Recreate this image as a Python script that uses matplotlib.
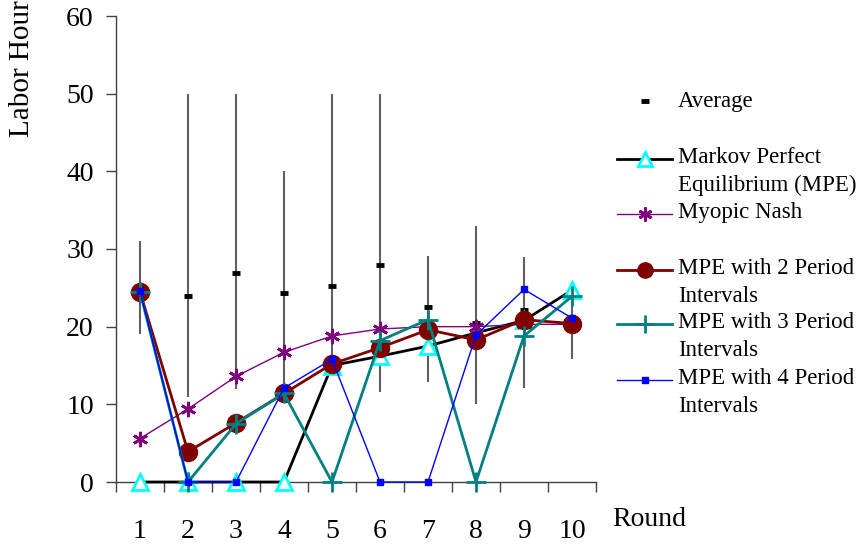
import matplotlib
matplotlib.use("Agg")
import matplotlib.pyplot as plt
from matplotlib.lines import Line2D

plt.rcParams['font.family'] = ['Liberation Serif', 'DejaVu Serif']

rounds = [1, 2, 3, 4, 5, 6, 7, 8, 9, 10]
round_labels = ["1", "2", "3", "4", "5", "6", "7", "8", "9", "10"]
y_ticks = [0, 10, 20, 30, 40, 50, 60]

avg = [24.6, 24.0, 26.9, 24.3, 25.3, 27.9, 22.5, 20.5, 22.2, 21.0]
err_low = [19.0, 11.0, 12.0, 11.4, 15.0, 11.6, 12.9, 10.0, 12.1, 15.9]
err_high = [31.0, 50.0, 50.0, 40.0, 50.0, 50.0, 29.1, 33.0, 29.0, 25.0]

mpe = [0, 0, 0, 0, 15.0, 16.2, 17.5, 19.2, 20.8, 24.7]
myopic = [5.6, 9.4, 13.6, 16.7, 18.8, 19.7, 20.0, 20.0, 20.3, 20.3]
mpe2 = [24.5, 3.9, 7.6, 11.4, 15.2, 17.3, 19.6, 18.3, 20.9, 20.4]
mpe3 = [24.5, 0, 7.5, 11.4, 0, 18.2, 20.9, 0, 18.8, 23.9]
mpe4 = [24.6, 0, 0, 12.1, 15.8, 0, 0, 18.9, 24.8, 21.1]

W, H = 859, 548
fig = plt.figure(figsize=(W / 100, H / 100), dpi=100)
ax = fig.add_axes([116 / W, 1 - 482 / H, 480 / W, 466 / H])

# error bars
ax.vlines(rounds, err_low, err_high, colors='#606060', linewidth=1.5, zorder=2)
ax.plot(rounds, avg, linestyle='none', marker='_', markersize=6, markeredgewidth=3.5,
        color='black', zorder=3)

c_tri = '#00FFFF'
ax.plot(rounds, mpe, color='black', linewidth=2, marker='^', markersize=12,
        markerfacecolor='white', markeredgecolor=c_tri, markeredgewidth=2, zorder=4)
ax.plot(rounds, myopic, color='#800080', linewidth=1, marker=(6, 2, 0), markersize=11,
        markeredgewidth=2, markeredgecolor='#800080', zorder=5)
ax.plot(rounds, mpe2, color='#800000', linewidth=2, marker='o', markersize=13,
        markerfacecolor='#800000', markeredgecolor='#800000', zorder=6)
ax.plot(rounds, mpe3, color='#008080', linewidth=2, marker='+', markersize=14,
        markeredgewidth=2, zorder=7)
ax.plot(rounds, mpe4, color='#0000FF', linewidth=1, marker='s', markersize=4,
        markerfacecolor='#0000FF', markeredgecolor='#0000FF', zorder=8)

ax.set_xlim(0.5, 10.5)
ax.set_ylim(0, 60)
ax.set_yticks(y_ticks)
ax.set_yticklabels([str(v) for v in y_ticks])
ax.set_xticks(rounds)
ax.set_xticklabels(round_labels)
ax.set_xticks([r - 0.5 for r in rounds] + [10.5], minor=True)
ax.tick_params(axis='x', which='major', length=0, pad=27, labelsize=20)
ax.tick_params(axis='x', which='minor', length=7, width=1, direction='out', color='#404040')
ax.tick_params(axis='y', which='major', length=7, width=1, direction='out', pad=9,
               labelsize=20, color='#404040')
for s in ['top', 'right']:
    ax.spines[s].set_visible(False)
for s in ['left', 'bottom']:
    ax.spines[s].set_color('#404040')
    ax.spines[s].set_linewidth(1)
for art in ax.lines + ax.collections:
    art.set_clip_on(False)

fig.text(612 / W, 1 - 519 / H, "Round", fontsize=20, ha='left', va='center')
fig.text(22 / W, 1.0, "Labor Hour", fontsize=21, rotation=90, ha='center', va='top')

# legend drawn manually
def fx(px):
    return px / W

def fy(py):
    return 1 - py / H

lx0, lx1, mx, tx = 617, 672, 645, 678
fs = 16.5
fig.add_artist(Line2D([fx(mx)], [fy(101)], marker='_', markersize=6, markeredgewidth=3.5,
                      color='black', linestyle='none'))
fig.text(fx(tx), fy(101), "Average", fontsize=fs, va='center')

entries = [
    (159, dict(color='black', linewidth=2, marker='^', markersize=10, markerfacecolor='white',
               markeredgecolor=c_tri, markeredgewidth=2), ["Markov Perfect", "Equilibrium (MPE)"]),
    (214, dict(color='#800080', linewidth=1, marker=(6, 2, 0), markersize=10, markeredgewidth=2,
               markeredgecolor='#800080'), ["Myopic Nash"]),
    (270, dict(color='#800000', linewidth=2, marker='o', markersize=11, markerfacecolor='#800000',
               markeredgecolor='#800000'), ["MPE with 2 Period", "Intervals"]),
    (324, dict(color='#008080', linewidth=2, marker='+', markersize=13, markeredgewidth=2),
     ["MPE with 3 Period", "Intervals"]),
    (380, dict(color='#0000FF', linewidth=1, marker='s', markersize=4, markerfacecolor='#0000FF',
               markeredgecolor='#0000FF'), ["MPE with 4 Period", "Intervals"]),
]
for y, style, lines in entries:
    st = dict(style)
    mk = {k: st.pop(k) for k in list(st) if k.startswith('marker')}
    fig.add_artist(Line2D([fx(lx0), fx(lx1)], [fy(y), fy(y)], **st))
    fig.add_artist(Line2D([fx(mx)], [fy(y)], linestyle='none', color=st['color'], **mk))
    for i, t in enumerate(lines):
        fig.text(fx(tx), fy(y - 1 + 27.5 * i), t, fontsize=fs, va='center')

fig.savefig("out.png", dpi=100)
